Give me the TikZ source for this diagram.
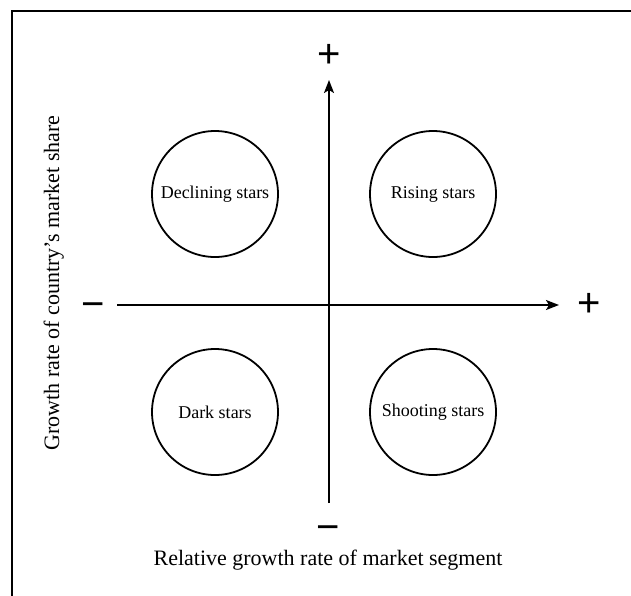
\documentclass[tikz,border=0pt]{standalone}
\usepackage{fontspec}
\setmainfont{Liberation Serif}
\newfontfamily\signfont{Liberation Sans}
\usetikzlibrary{arrows.meta}
\begin{document}
\begin{tikzpicture}[x=1pt,y=-1pt,
  star/.style={draw,circle,line width=1.8pt,minimum size=126pt,inner sep=0pt,font=\fontsize{18}{20}\selectfont},
  axis/.style={line width=1.8pt,-{Stealth[length=13pt,width=10pt,inset=3pt]}},
  sign/.style={font=\signfont\fontsize{40}{40}\selectfont,inner sep=0pt},
  lbl/.style={font=\fontsize{22}{24}\selectfont,inner sep=0pt}]
\useasboundingbox (0,0) rectangle (631,595);
\fill[white] (0,0) rectangle (631,595);
\draw[line width=2pt] (12,600) -- (12,11) -- (640,11);
\coordinate (xl) at (117,305);
\coordinate (xr) at (559,305);
\coordinate (yb) at (329,503);
\coordinate (yt) at (329,80);
\draw[axis] (xl) -- (xr);
\draw[axis] (yb) -- (yt);
\node[sign] (ptop) at (329,56) {+};
\node[sign] (pright) at (589,305) {+};
\node[sign] (mleft) at (93,310) {−};
\node[sign] (mbot) at (328,533) {−};
\node[star] (dec) at (215,194) {Declining stars};
\node[star] (ris) at (433,194) {Rising stars};
\node[star] (dark) at (215,412) {Dark stars};
\node[star] (shoot) at (433,412) {Shooting stars};
\node[lbl,anchor=base] (xlab) at (328,565) {Relative growth rate of market segment};
\node[lbl,anchor=base,rotate=90] (ylab) at (59,283) {Growth rate of country’s market share};
\end{tikzpicture}
\end{document}
